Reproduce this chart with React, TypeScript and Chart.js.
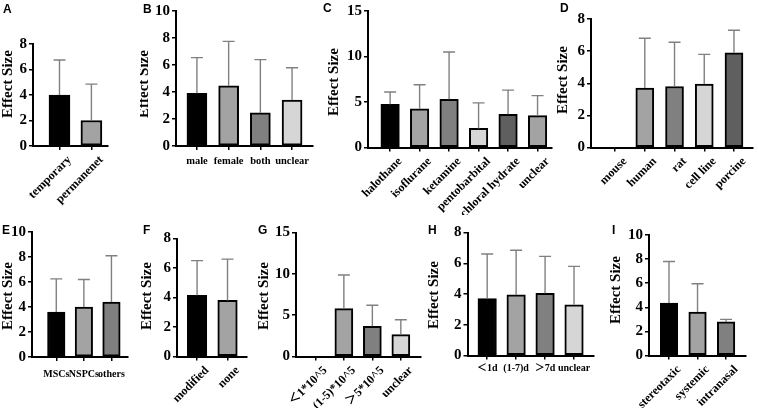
import React, { useEffect, useRef } from 'react';
import { Chart, ChartConfiguration, registerables } from 'chart.js';

Chart.register(...registerables);

// ---- values (bar = mean, whisker = upper end of SD) ----
const A_LABELS = ['temporary', 'permanenet'];
const A_MEANS = [4.0, 2.0];
const A_UPPER = [6.75, 4.85];

const B_LABELS = ['male', 'female', 'both', 'unclear'];
const B_MEANS = [3.9, 4.45, 2.45, 3.4];
const B_UPPER = [6.55, 7.75, 6.4, 5.8];

const C_LABELS = ['halothane', 'isoflurane', 'ketamine', 'pentobarbital', 'chloral hydrate', 'unclear'];
const C_MEANS = [4.75, 4.25, 5.3, 2.1, 3.65, 3.5];
const C_UPPER = [6.1, 6.9, 10.5, 4.9, 6.3, 5.7];

const D_LABELS = ['mouse', 'human', 'rat', 'cell line', 'porcine'];
const D_MEANS = [0, 3.7, 3.8, 3.95, 5.9];
const D_UPPER = [null, 6.8, 6.55, 5.8, 7.3];

const E_LABELS = ['MSCs', 'NSPCs', 'others'];
const E_MEANS = [3.6, 4.0, 4.4];
const E_UPPER = [6.25, 6.2, 8.1];

const F_LABELS = ['modified', 'none'];
const F_MEANS = [4.15, 3.8];
const F_UPPER = [6.5, 6.6];

const G_LABELS = ['＜1*10^5', '(1-5)*10^5', '＞5*10^5', 'unclear'];
const G_MEANS = [0, 5.8, 3.65, 2.65];
const G_UPPER = [null, 9.85, 6.2, 4.45];

const H_LABELS = ['＜1d', '(1-7)d', '＞7d', 'unclear'];
const H_MEANS = [3.7, 3.95, 4.05, 3.3];
const H_UPPER = [6.6, 6.85, 6.45, 5.8];

const I_LABELS = ['stereotaxic', 'systemic', 'intranasal'];
const I_MEANS = [4.35, 3.6, 2.8];
const I_UPPER = [7.8, 5.95, 3.0];

// ---- styles ----
const SERIF = '"Liberation Serif", "Times New Roman", "Noto Sans CJK SC", serif';
const SANS = '"Liberation Sans", Arial, sans-serif';
const K = '#000000';
const MID = '#a3a3a3';
const DARK = '#808080';
const LIGHT = '#d6d6d6';
const DEEP = '#5f5f5f';

interface Layout {
  left: number; top: number; width: number; height: number;
  axisX: number; axisEnd: number; yTop: number; yBase: number;
  xMin: number; xMax: number; yMax: number; yStep: number;
  barW: number; rot: number; labelSize: number; labelPad: number;
  letterX: number; letterY: number; titleX: number; titleY: number;
}

interface PanelSpec {
  letter: string;
  labels: string[];
  means: number[];
  upper: (number | null)[];
  colors: string[];
  layout: Layout;
}

const PANELS: PanelSpec[] = [
  { letter: 'A', labels: A_LABELS, means: A_MEANS, upper: A_UPPER, colors: [K, MID],
    layout: { left: 0, top: 0, width: 140, height: 215, axisX: 33, axisEnd: 108, yTop: 44, yBase: 146,
      xMin: -0.83, xMax: 1.52, yMax: 8, yStep: 2, barW: 21, rot: 45, labelSize: 12, labelPad: 3,
      letterX: 3, letterY: 13, titleX: 8.5, titleY: 84 } },
  { letter: 'B', labels: B_LABELS, means: B_MEANS, upper: B_UPPER, colors: [K, MID, DARK, LIGHT],
    layout: { left: 140, top: 0, width: 180, height: 215, axisX: 176, axisEnd: 313, yTop: 10, yBase: 146,
      xMin: -0.66, xMax: 3.66, yMax: 10, yStep: 2, barW: 20, rot: 0, labelSize: 10.5, labelPad: 5,
      letterX: 143, letterY: 13, titleX: 144, titleY: 84 } },
  { letter: 'C', labels: C_LABELS, means: C_MEANS, upper: C_UPPER, colors: [K, MID, DARK, LIGHT, DEEP, MID],
    layout: { left: 320, top: 0, width: 236, height: 215, axisX: 368, axisEnd: 552, yTop: 10, yBase: 147.5,
      xMin: -0.75, xMax: 5.49, yMax: 15, yStep: 5, barW: 18.5, rot: 45, labelSize: 12, labelPad: 3,
      letterX: 323, letterY: 12, titleX: 334, titleY: 82 } },
  { letter: 'D', labels: D_LABELS, means: D_MEANS, upper: D_UPPER, colors: [K, MID, DARK, LIGHT, DEEP],
    layout: { left: 556, top: 0, width: 202, height: 215, axisX: 591, axisEnd: 753, yTop: 19, yBase: 147.5,
      xMin: -0.81, xMax: 4.64, yMax: 8, yStep: 2, barW: 18, rot: 45, labelSize: 12, labelPad: 3,
      letterX: 560, letterY: 12, titleX: 563, titleY: 80 } },
  { letter: 'E', labels: E_LABELS, means: E_MEANS, upper: E_UPPER, colors: [K, MID, DARK],
    layout: { left: 0, top: 200, width: 140, height: 208, axisX: 32, axisEnd: 128, yTop: 232, yBase: 357,
      xMin: -0.88, xMax: 2.6, yMax: 10, yStep: 2, barW: 17.5, rot: 0, labelSize: 10, labelPad: 7,
      letterX: 2, letterY: 234, titleX: 8.5, titleY: 296 } },
  { letter: 'F', labels: F_LABELS, means: F_MEANS, upper: F_UPPER, colors: [K, MID],
    layout: { left: 140, top: 200, width: 115, height: 208, axisX: 177, axisEnd: 247, yTop: 238.5, yBase: 356.5,
      xMin: -0.66, xMax: 1.64, yMax: 8, yStep: 2, barW: 19.5, rot: 45, labelSize: 12, labelPad: 3,
      letterX: 143, letterY: 234, titleX: 147.5, titleY: 296 } },
  { letter: 'G', labels: G_LABELS, means: G_MEANS, upper: G_UPPER, colors: [K, MID, DARK, LIGHT],
    layout: { left: 255, top: 200, width: 170, height: 208, axisX: 296, axisEnd: 420.5, yTop: 232.5, yBase: 356.5,
      xMin: -0.68, xMax: 3.69, yMax: 15, yStep: 5, barW: 18, rot: 45, labelSize: 12, labelPad: 3,
      letterX: 258, letterY: 234, titleX: 264, titleY: 296 } },
  { letter: 'H', labels: H_LABELS, means: H_MEANS, upper: H_UPPER, colors: [K, MID, DARK, LIGHT],
    layout: { left: 425, top: 200, width: 175, height: 208, axisX: 467.5, axisEnd: 594, yTop: 232.5, yBase: 355.5,
      xMin: -0.68, xMax: 3.69, yMax: 8, yStep: 2, barW: 18.5, rot: 0, labelSize: 10, labelPad: 3,
      letterX: 428, letterY: 234, titleX: 434, titleY: 295 } },
  { letter: 'I', labels: I_LABELS, means: I_MEANS, upper: I_UPPER, colors: [K, MID, DARK],
    layout: { left: 600, top: 200, width: 158, height: 208, axisX: 649, axisEnd: 745.5, yTop: 235, yBase: 355.5,
      xMin: -0.7, xMax: 2.68, yMax: 10, yStep: 2, barW: 17.5, rot: 45, labelSize: 12, labelPad: 3,
      letterX: 612, letterY: 234, titleX: 616, titleY: 290 } },
];

const Panel: React.FC<{ spec: PanelSpec }> = ({ spec }) => {
  const canvasRef = useRef<HTMLCanvasElement>(null);

  useEffect(() => {
    if (!canvasRef.current) return;
    const L = spec.layout;
    const yAxisWidth = L.axisX - L.left;
    const xAxisHeight = L.height - (L.yBase - L.top);

    // whiskers, panel letter and rotated y title
    const decor = {
      id: 'decor',
      afterDatasetsDraw(chart: Chart) {
        const { ctx } = chart;
        const ys = chart.scales.y;
        const meta = chart.getDatasetMeta(0);
        ctx.save();
        ctx.strokeStyle = '#808080';
        ctx.lineWidth = 1.4;
        spec.upper.forEach((u, i) => {
          if (u == null) return;
          const bar = meta.data[i] as any;
          const yEnd = ys.getPixelForValue(u);
          ctx.beginPath();
          ctx.moveTo(bar.x, bar.y);
          ctx.lineTo(bar.x, yEnd);
          ctx.moveTo(bar.x - 6, yEnd);
          ctx.lineTo(bar.x + 6, yEnd);
          ctx.stroke();
        });
        ctx.restore();
      },
      afterDraw(chart: Chart) {
        const { ctx } = chart;
        ctx.save();
        ctx.fillStyle = '#000';
        ctx.font = `bold 12px ${SANS}`;
        ctx.textBaseline = 'alphabetic';
        ctx.textAlign = 'left';
        ctx.fillText(spec.letter, L.letterX - L.left, L.letterY - L.top);
        ctx.translate(L.titleX - L.left, L.titleY - L.top);
        ctx.rotate(-Math.PI / 2);
        ctx.font = `bold 15px ${SERIF}`;
        ctx.textAlign = 'center';
        ctx.textBaseline = 'middle';
        ctx.fillText('Effect Size', 0, 0);
        ctx.restore();
      }
    };

    const config: ChartConfiguration = {
      type: 'bar',
      data: {
        datasets: [{
          data: spec.means.map((v, i) => ({ x: i, y: v })),
          backgroundColor: spec.colors,
          borderColor: '#000',
          borderWidth: spec.means.map(v => (v > 0 ? 2 : 0)),
          borderSkipped: false,
          barThickness: L.barW
        }]
      } as any,
      options: {
        responsive: true,
        maintainAspectRatio: false,
        animation: false,
        layout: {
          padding: { left: 0, top: L.yTop - L.top, right: L.left + L.width - L.axisEnd, bottom: 0 }
        },
        plugins: {
          legend: { display: false },
          tooltip: { enabled: false }
        },
        scales: {
          x: {
            type: 'linear',
            offset: false,
            min: L.xMin,
            max: L.xMax,
            afterBuildTicks: (s: any) => {
              s.ticks = spec.labels.map((_, i) => ({ value: i }));
            },
            afterFit: (s: any) => { s.height = xAxisHeight; },
            ticks: {
              autoSkip: false,
              minRotation: L.rot,
              maxRotation: L.rot,
              labelOffset: L.rot ? 10 : 0,
              padding: L.labelPad,
              color: '#000',
              font: { family: SERIF, size: L.labelSize, weight: 'bold' },
              callback: (v: any) => spec.labels[v]
            },
            grid: { offset: false, drawOnChartArea: false, color: '#000', lineWidth: 1.5, tickLength: 4 },
            border: { color: '#000', width: 2 }
          },
          y: {
            min: 0,
            max: L.yMax,
            afterFit: (s: any) => { s.width = yAxisWidth; },
            ticks: {
              stepSize: L.yStep,
              padding: 2,
              color: '#000',
              font: { family: SERIF, size: 15, weight: 'bold' }
            },
            grid: { drawOnChartArea: false, color: '#000', lineWidth: 1.5, tickLength: 4 },
            border: { color: '#000', width: 2 }
          }
        } as any
      },
      plugins: [decor]
    };

    const chart = new Chart(canvasRef.current, config);
    return () => {
      chart.destroy();
    };
  }, [spec]);

  const L = spec.layout;
  return (
    <div style={{ position: 'absolute', left: L.left, top: L.top, width: L.width, height: L.height }}>
      <canvas ref={canvasRef} />
    </div>
  );
};

export default function App() {
  return (
    <div style={{ position: 'absolute', left: 0, top: 0, width: 758, height: 408, background: '#fff' }}>
      {PANELS.map(p => <Panel key={p.letter} spec={p} />)}
    </div>
  );
}
